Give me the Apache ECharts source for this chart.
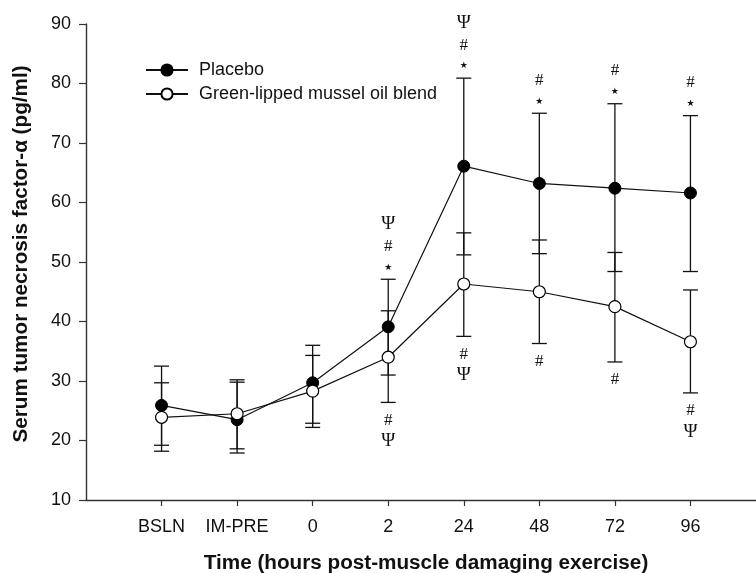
<!DOCTYPE html>
<html>
<head>
<meta charset="utf-8">
<script src="https://cdn.jsdelivr.net/npm/echarts@6/dist/echarts.min.js"></script>
<style>
  html, body { margin: 0; padding: 0; background: #fff; }
  #chart { width: 756px; height: 573px; }
</style>
</head>
<body>
<div id="chart"></div>
<script>
// time points (x axis)
const categories = ['BSLN', 'IM-PRE', '0', '2', '24', '48', '72', '96'];

// placebo means and error bar ends
const placebo = [25.9, 23.5, 29.7, 39.1, 66.1, 63.2, 62.4, 61.6];
const placeboHigh = [32.5, 29.8, 36.0, 47.1, 80.9, 75.0, 76.6, 74.6];
const placeboLow = [19.2, 17.9, 22.9, 31.0, 51.2, 51.4, 48.4, 48.4];

// mussel oil blend means and error bar ends
const oil = [23.9, 24.5, 28.3, 34.0, 46.3, 45.0, 42.5, 36.6];
const oilHigh = [29.7, 30.2, 34.3, 41.8, 54.9, 53.7, 51.6, 45.3];
const oilLow = [18.2, 18.6, 22.2, 26.4, 37.5, 36.3, 33.2, 28.0];

// significance marks, listed from the error bar outwards
const placeboMarks = [[], [], [], ['★', '#', 'Ψ'], ['★', '#', 'Ψ'], ['★', '#'], ['★', '#'], ['★', '#']];
const oilMarks = [[], [], [], ['#', 'Ψ'], ['#', 'Ψ'], ['#'], ['#'], ['#', 'Ψ']];

const yTicks = [10, 20, 30, 40, 50, 60, 70, 80, 90];

const chart = echarts.init(document.getElementById('chart'));

const ink = '#111';
const xPositions = categories.map((c, i) => i);

function errorBars(lows, highs) {
  return {
    type: 'custom',
    z: 1,
    silent: true,
    data: lows.map((lo, i) => [i, lo, highs[i]]),
    renderItem: (params, api) => {
      const x = api.value(0);
      const lo = api.coord([x, api.value(1)]);
      const hi = api.coord([x, api.value(2)]);
      const w = 7.5;
      const style = { stroke: ink, lineWidth: 1.3 };
      return {
        type: 'group',
        children: [
          { type: 'line', shape: { x1: lo[0], y1: lo[1], x2: hi[0], y2: hi[1] }, style },
          { type: 'line', shape: { x1: hi[0] - w, y1: hi[1], x2: hi[0] + w, y2: hi[1] }, style },
          { type: 'line', shape: { x1: lo[0] - w, y1: lo[1], x2: lo[0] + w, y2: lo[1] }, style }
        ]
      };
    }
  };
}

function marks(ends, labels, dir) {
  // dir -1 = above the bar, 1 = below
  const gapsAbove = [12, 33, 55];
  const gapsBelow = [18, 39];
  return {
    type: 'custom',
    z: 4,
    silent: true,
    data: ends.map((v, i) => [i, v]),
    renderItem: (params, api) => {
      const p = api.coord([api.value(0), api.value(1)]);
      const list = labels[params.dataIndex];
      const gaps = dir < 0 ? gapsAbove : gapsBelow;
      return {
        type: 'group',
        children: list.map((t, k) => ({
          type: 'text',
          style: {
            text: t,
            x: p[0],
            y: p[1] + dir * gaps[k],
            align: 'center',
            verticalAlign: 'middle',
            fill: ink,
            font: t === '★' ? '9px "DejaVu Sans"' : (t === 'Ψ' ? '19px "Liberation Serif"' : '17px "Liberation Serif"')
          }
        }))
      };
    }
  };
}

const option = {
  backgroundColor: '#fff',
  animation: false,
  grid: { left: 86, right: -10, top: 24, bottom: 73, outerBoundsMode: 'none' },
  legend: {
    data: ['Placebo', 'Green-lipped mussel oil blend'],
    orient: 'vertical',
    left: 145,
    top: 61,
    padding: 0,
    itemWidth: 42,
    itemHeight: 14,
    itemGap: 6,
    textStyle: { fontFamily: 'Liberation Sans', fontSize: 18, color: ink, padding: [0, 0, 0, 6] }
  },
  xAxis: {
    type: 'value',
    min: -1,
    max: 8,
    interval: 1,
    name: 'Time (hours post-muscle damaging exercise)',
    nameLocation: 'middle',
    nameGap: 53,
    nameTextStyle: { fontFamily: 'Liberation Sans', fontWeight: 'bold', fontSize: 20.7, color: ink },
    splitLine: { show: false },
    axisLine: { onZero: false, lineStyle: { color: '#333', width: 1.4 } },
    axisTick: { inside: false, length: 6, customValues: xPositions, lineStyle: { color: '#333', width: 1.2 } },
    axisLabel: {
      margin: 18,
      fontFamily: 'Liberation Sans',
      fontSize: 18,
      color: ink,
      customValues: xPositions,
      formatter: v => categories[v]
    }
  },
  yAxis: {
    type: 'value',
    min: yTicks[0],
    max: yTicks[yTicks.length - 1],
    interval: 10,
    name: 'Serum tumor necrosis factor-α (pg/ml)',
    nameLocation: 'middle',
    nameGap: 54,
    nameTextStyle: { fontFamily: 'Liberation Sans', fontWeight: 'bold', fontSize: 20.7, color: ink, padding: [0, 0, 0, 16] },
    splitLine: { show: false },
    axisLine: { show: true, onZero: false, lineStyle: { color: '#333', width: 1.4 } },
    axisTick: { show: true, length: 7, lineStyle: { color: '#333', width: 1.2 } },
    axisLabel: { margin: 15, fontFamily: 'Liberation Sans', fontSize: 18, color: ink }
  },
  series: [
    errorBars(placeboLow, placeboHigh),
    errorBars(oilLow, oilHigh),
    {
      name: 'Placebo',
      type: 'line',
      z: 3,
      data: placebo.map((v, i) => [i, v]),
      symbol: 'circle',
      symbolSize: 12,
      lineStyle: { color: ink, width: 1.2 },
      itemStyle: { color: '#000', borderColor: '#000', borderWidth: 1 }
    },
    {
      name: 'Green-lipped mussel oil blend',
      type: 'line',
      z: 3,
      data: oil.map((v, i) => [i, v]),
      symbol: 'circle',
      symbolSize: 12,
      lineStyle: { color: ink, width: 1.2 },
      itemStyle: { color: '#fff', borderColor: '#000', borderWidth: 1.2 }
    },
    marks(placeboHigh, placeboMarks, -1),
    marks(oilLow, oilMarks, 1)
  ]
};

chart.setOption(option);
</script>
</body>
</html>
